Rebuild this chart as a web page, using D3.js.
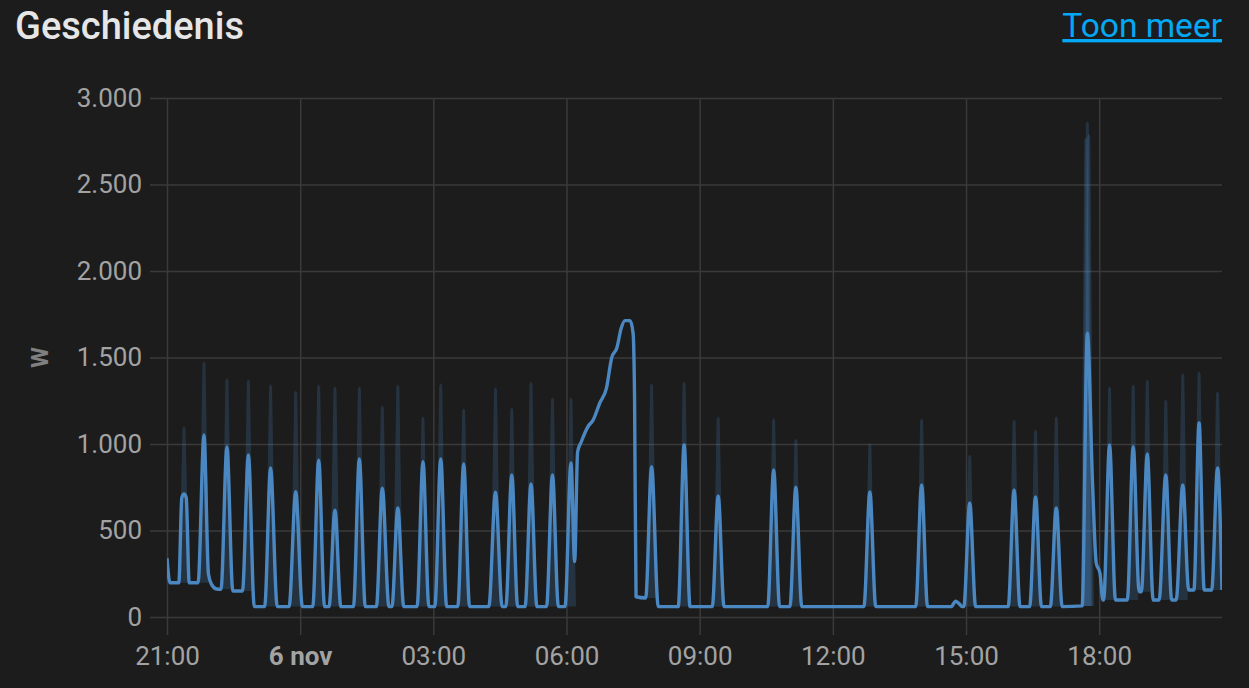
<!DOCTYPE html>
<html>
<head>
<meta charset="utf-8">
<script src="https://cdn.jsdelivr.net/npm/d3@7"></script>
<style>
  html, body { margin: 0; padding: 0; background: #1c1c1c; }
  svg { display: block; font-family: Roboto, "Noto Sans", sans-serif; }
</style>
</head>
<body>
<svg id="chart" width="1249" height="688"></svg>
<script>
// ---- Data ----
const titleText = "Geschiedenis";
const linkText = "Toon meer";
const yAxisTitle = "W";

const yTickValues = [0, 500, 1000, 1500, 2000, 2500, 3000];
const yTickLabels = ["0", "500", "1.000", "1.500", "2.000", "2.500", "3.000"];

const xTickTimes = ["21:00", "00:00", "03:00", "06:00", "09:00", "12:00", "15:00", "18:00"];
const xTickLabels = ["21:00", "6 nov", "03:00", "06:00", "09:00", "12:00", "15:00", "18:00"];
const xTickBold = [false, true, false, false, false, false, false, false];

const rangeStart = "21:00";
const rangeEnd = "20:46";

// mean power line: [time, watts]
const meanPoints = [
  ["21:00",340],["21:04",198],
  ["21:16",198],["21:20",690],["21:23",711],["21:26",690],["21:30",198],
  ["21:42",198],["21:50",1052],["21:56",250],["22:00",190],["22:07",162],
  ["22:13",160],["22:21",983],["22:29",150],
  ["22:42",150],["22:50",936],["22:58",60],
  ["23:12",60],["23:20",861],["23:29",60],
  ["23:45",60],["23:54",724],["00:03",60],
  ["00:17",60],["00:25",907],["00:33",60],
  ["00:39",60],["00:47",618],["00:55",60],
  ["01:12",60],["01:20",913],["01:28",60],
  ["01:43",60],["01:51",745],["02:00",60],
  ["02:04",60],["02:12",630],["02:20",60],
  ["02:38",60],["02:46",898],["02:54",60],
  ["03:02",60],["03:10",913],["03:18",60],
  ["03:33",60],["03:41",884],["03:49",60],
  ["04:15",60],["04:24",722],["04:33",60],
  ["04:38",60],["04:46",821],["04:54",60],
  ["05:04",60],["05:12",769],["05:20",60],
  ["05:33",60],["05:41",821],["05:49",60],
  ["05:58",60],["06:06",890],["06:11",320],
  ["06:15",955],["06:20",1013],["06:29",1100],["06:36",1139],["06:45",1237],
  ["06:54",1323],["07:01",1497],["07:08",1555],["07:14",1670],["07:19",1713],
  ["07:26",1713],["07:30",1640],["07:32",1254],["07:34",117],
  ["07:47",110],["07:55",869],["08:04",60],
  ["08:31",60],["08:39",994],["08:47",60],
  ["09:17",60],["09:25",699],["09:33",60],
  ["10:32",60],["10:40",850],["10:48",60],
  ["11:02",60],["11:10",750],["11:18",60],
  ["12:42",60],["12:50",723],["12:58",60],
  ["13:52",60],["14:00",763],["14:08",60],
  ["14:40",60],["14:46",92],["14:50",80],["14:55",60],
  ["14:57",60],["15:05",659],["15:13",60],
  ["15:57",60],["16:05",734],["16:13",60],
  ["16:26",60],["16:34",694],["16:42",60],
  ["16:54",60],["17:02",630],["17:10",60],
  ["17:37",64],["17:44",1640],["17:51",774],["17:56",312],["18:01",254],["18:05",98],
  ["18:06",98],["18:14",994],["18:22",98],
  ["18:38",98],["18:46",985],["18:54",146],
  ["18:57",146],["19:05",942],["19:13",98],
  ["19:21",98],["19:30",821],["19:38",98],
  ["19:44",98],["19:53",763],["20:01",156],
  ["20:08",156],["20:15",1121],["20:22",156],
  ["20:32",156],["20:40",861],["20:46",156]
];

// min/max band spikes: [time, min, max]
const bandPoints = [
  ["21:23",198,1110],["21:50",198,1485],["22:21",160,1389],["22:50",150,1381],
  ["23:20",60,1354],["23:54",60,1317],["00:25",60,1352],["00:47",60,1341],
  ["01:20",60,1341],["01:51",60,1231],["02:12",60,1352],["02:46",60,1168],
  ["03:10",60,1360],["03:41",60,1214],["04:24",60,1335],["04:46",60,1220],
  ["05:12",60,1370],["05:41",60,1277],["06:06",60,1277],
  ["07:55",110,1360],["08:39",60,1370],["09:25",60,1168],["10:40",60,1158],
  ["11:10",60,1039],["12:50",60,1013],["14:00",60,1156],["15:05",60,948],
  ["16:05",60,1150],["16:34",60,1092],["17:02",60,1168],
  ["17:42",64,2780],["17:44",64,2873],["17:46",64,2800],
  ["18:14",98,1341],["18:46",98,1352],["19:05",146,1381],["19:30",98,1266],
  ["19:53",98,1418],["20:15",156,1428],["20:40",156,1312]
];

// ---- Helpers ----
function parseT(s) {
  const [h, m] = s.split(":").map(Number);
  return new Date(2023, 10, h >= 21 ? 5 : 6, h, m);
}
function parseStart(s) { const [h, m] = s.split(":").map(Number); return new Date(2023, 10, 5, h, m); }

// ---- Layout ----
const svg = d3.select("#chart");
const W = 1249, H = 688;
const plot = { left: 167, right: 1222, top: 98, bottom: 617 };
const lineColor = "#4b88c2";
const gridColor = "#3a3a3a";
const labelColor = "#a3a3a3";

svg.append("rect").attr("width", W).attr("height", H).attr("fill", "#1c1c1c");

const x = d3.scaleTime()
  .domain([parseStart(rangeStart), parseT(rangeEnd)])
  .range([plot.left, plot.right]);
const y = d3.scaleLinear()
  .domain([0, 3000])
  .range([plot.bottom, plot.top]);

// Title + link
svg.append("text")
  .attr("x", 15).attr("y", 39)
  .attr("fill", "#e6e6e6")
  .attr("font-size", 38).attr("font-weight", 500)
  .text(titleText);

svg.append("text")
  .attr("x", plot.right).attr("y", 37)
  .attr("text-anchor", "end")
  .attr("fill", "#03a9f4")
  .attr("font-size", 33.5)
  .style("text-decoration", "underline")
  .text(linkText);

// Y grid + labels
const yAxis = d3.axisLeft(y)
  .tickValues(yTickValues)
  .tickSize(-(plot.right - plot.left) - 17)
  .tickPadding(8)
  .tickFormat((d, i) => yTickLabels[i]);
const gy = svg.append("g")
  .attr("transform", `translate(${plot.left - 17},0)`)
  .call(yAxis);
gy.select(".domain").remove();
gy.selectAll(".tick line").attr("stroke", gridColor).attr("stroke-width", 1.5);
gy.selectAll(".tick text")
  .attr("fill", labelColor).attr("font-size", 26)
  .attr("font-family", "Roboto, sans-serif");

// X grid + labels
const xTicks = xTickTimes.map((t, i) => i === 0 ? parseStart(t) : parseT(t));
const xAxis = d3.axisBottom(x)
  .tickValues(xTicks)
  .tickSize(-(plot.bottom - plot.top) - 18)
  .tickPadding(12)
  .tickFormat((d, i) => xTickLabels[i]);
const gx = svg.append("g")
  .attr("transform", `translate(0,${plot.bottom + 18})`)
  .call(xAxis);
gx.select(".domain").remove();
gx.selectAll(".tick line").attr("stroke", gridColor).attr("stroke-width", 1.5);
gx.selectAll(".tick text")
  .attr("fill", labelColor).attr("font-size", 26)
  .attr("font-family", "Roboto, sans-serif")
  .attr("dy", "0.71em")
  .attr("font-weight", (d, i) => xTickBold[i] ? 700 : 400);

// Y axis title
svg.append("text")
  .attr("transform", `translate(40,${y(1500)}) rotate(-90)`)
  .attr("text-anchor", "middle")
  .attr("dy", "0.35em")
  .attr("fill", "#808080")
  .attr("font-size", 24).attr("font-weight", 700)
  .text(yAxisTitle);

// Clip
svg.append("clipPath").attr("id", "clip")
  .append("rect").attr("x", plot.left).attr("y", plot.top - 5)
  .attr("width", plot.right - plot.left).attr("height", plot.bottom - plot.top + 10);

const g = svg.append("g").attr("clip-path", "url(#clip)");

// Min/max band spikes
const spikeHalf = 5;
g.selectAll("path.band")
  .data(bandPoints)
  .join("path")
  .attr("class", "band")
  .attr("fill", lineColor)
  .attr("fill-opacity", 0.22)
  .attr("d", d => {
    const cx = x(parseT(d[0]));
    const y0 = y(d[1]), y1 = y(d[2]);
    return `M${cx - spikeHalf},${y0} L${cx - 1.5},${y1 + 4} Q${cx},${y1 - 1} ${cx + 1.5},${y1 + 4} L${cx + spikeHalf},${y0} Z`;
  });

// Mean line
const line = d3.line()
  .x((d, i) => i === 0 ? x(parseStart(d[0])) : x(parseT(d[0])))
  .y(d => y(d[1]))
  .curve(d3.curveMonotoneX);
g.append("path")
  .datum(meanPoints)
  .attr("fill", "none")
  .attr("stroke", lineColor)
  .attr("stroke-width", 3.4)
  .attr("stroke-linejoin", "round")
  .attr("d", line);
</script>
</body>
</html>
